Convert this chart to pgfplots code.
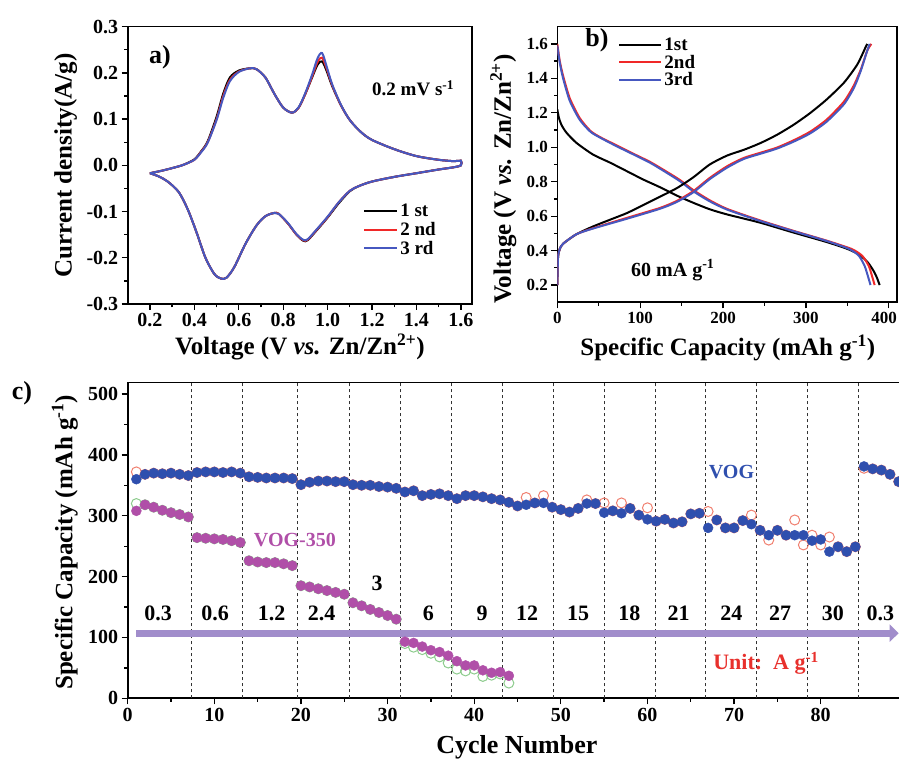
\documentclass[border=0pt]{standalone}
\usepackage{fontspec}
\setmainfont{Liberation Serif}
\usepackage{pgfplots}
\pgfplotsset{compat=1.18}
\usetikzlibrary{arrows.meta}

\definecolor{cvred}{HTML}{F02828}
\definecolor{cvblue}{HTML}{4658C0}
\definecolor{vogblue}{HTML}{2F4FAE}
\definecolor{vogmag}{HTML}{B04FA8}
\definecolor{openred}{HTML}{F08070}
\definecolor{opengreen}{HTML}{8CCB8C}
\definecolor{arrowcol}{HTML}{A18DCB}
\definecolor{unitred}{HTML}{E8302C}

\newcommand\tk{\fontsize{20}{22}\selectfont\bfseries}
\newcommand\tkb{\fontsize{17}{19}\selectfont\bfseries}
\newcommand\lb{\fontsize{25}{28}\selectfont\bfseries}
\newcommand\an{\fontsize{19}{21}\selectfont\bfseries}

\pgfplotsset{
  myaxis/.style={
    scale only axis,
    axis line style={line width=1.6pt},
    tick style={line width=1.3pt, black},
    tick align=outside,
    tick pos=left,
    major tick length=6pt,
    minor tick length=3.5pt,
    tick label style={font=\tk},
    /pgf/number format/assume math mode=true,
    label style={font=\lb},
  }
}

\begin{document}
\begin{tikzpicture}
\useasboundingbox (0,0) rectangle (899pt,760pt);
\clip (0,0) rectangle (899pt,760pt);

% ---------------- panel a ----------------
\begin{axis}[myaxis,
  at={(127.7pt,456pt)}, anchor=south west,
  width=344.3pt, height=277.3pt,
  xmin=0.1, xmax=1.65, ymin=-0.3, ymax=0.3,
  xtick={0.2,0.4,0.6,0.8,1.0,1.2,1.4,1.6},
  ytick={-0.3,-0.2,-0.1,0,0.1,0.2,0.3},
  minor x tick num=1, minor y tick num=1,
  xticklabel style={/pgf/number format/.cd,fixed,fixed zerofill,precision=1},
  yticklabel style={/pgf/number format/.cd,fixed,fixed zerofill,precision=1},
  xlabel={Voltage (V \textit{vs.} Zn/Zn\textsuperscript{2+})},
  ylabel={Current density(A/g)},
  every axis x label/.style={at={(axis description cs:0.5,-0.155)},anchor=center,font=\lb},
  every axis y label/.style={at={(axis description cs:-0.18,0.5)},anchor=center,rotate=90,font=\lb},
  legend style={draw=none, fill=none, at={(axis description cs:0.675,0.375)}, anchor=north west, font=\an, row sep=0pt},
  legend cell align=left,
  legend image code/.code={\draw[#1, line width=2pt] (0pt,0pt) -- (33pt,0pt);},
]
\addplot[black, line width=2pt, smooth] coordinates {
(0.20,-0.017)(0.25,-0.012)(0.30,-0.006)(0.35,0.001)(0.40,0.013)(0.43,0.030)(0.46,0.052)(0.50,0.105)(0.53,0.155)(0.56,0.190)(0.60,0.205)(0.65,0.210)(0.68,0.208)(0.72,0.190)(0.76,0.155)(0.80,0.125)(0.84,0.114)(0.87,0.125)(0.90,0.155)(0.93,0.190)(0.955,0.218)(0.975,0.225)(0.995,0.205)(1.02,0.172)(1.06,0.130)(1.10,0.098)(1.15,0.072)(1.20,0.055)(1.30,0.035)(1.40,0.020)(1.50,0.012)(1.57,0.009)(1.60,0.010)
(1.60,0.000)(1.57,-0.004)(1.50,-0.009)(1.40,-0.017)(1.30,-0.025)(1.20,-0.035)(1.14,-0.045)(1.10,-0.056)(1.05,-0.082)(1.00,-0.113)(0.95,-0.141)(0.91,-0.162)(0.89,-0.163)(0.86,-0.150)(0.82,-0.125)(0.78,-0.105)(0.76,-0.103)(0.72,-0.110)(0.68,-0.130)(0.63,-0.170)(0.58,-0.220)(0.545,-0.243)(0.52,-0.245)(0.49,-0.235)(0.45,-0.200)(0.41,-0.145)(0.37,-0.095)(0.33,-0.058)(0.28,-0.035)(0.24,-0.024)(0.20,-0.017)};
\addlegendentry{1 st}
\addplot[cvred, line width=2pt, smooth] coordinates {
(0.20,-0.017)(0.25,-0.012)(0.30,-0.006)(0.35,0.001)(0.40,0.012)(0.43,0.029)(0.46,0.050)(0.50,0.100)(0.53,0.150)(0.56,0.185)(0.60,0.203)(0.65,0.210)(0.68,0.208)(0.72,0.190)(0.76,0.155)(0.80,0.125)(0.84,0.114)(0.87,0.125)(0.90,0.155)(0.93,0.192)(0.955,0.224)(0.975,0.233)(0.995,0.210)(1.02,0.174)(1.06,0.130)(1.10,0.098)(1.15,0.072)(1.20,0.055)(1.30,0.035)(1.40,0.020)(1.50,0.012)(1.57,0.009)(1.60,0.010)
(1.60,0.000)(1.57,-0.004)(1.50,-0.009)(1.40,-0.017)(1.30,-0.025)(1.20,-0.035)(1.14,-0.045)(1.10,-0.055)(1.05,-0.080)(1.00,-0.112)(0.95,-0.140)(0.91,-0.161)(0.89,-0.162)(0.86,-0.150)(0.82,-0.125)(0.78,-0.105)(0.76,-0.103)(0.72,-0.110)(0.68,-0.130)(0.63,-0.170)(0.58,-0.220)(0.545,-0.243)(0.52,-0.245)(0.49,-0.235)(0.45,-0.200)(0.41,-0.145)(0.37,-0.095)(0.33,-0.058)(0.28,-0.035)(0.24,-0.024)(0.20,-0.017)};
\addlegendentry{2 nd}
\addplot[cvblue, line width=2pt, smooth] coordinates {
(0.20,-0.017)(0.25,-0.012)(0.30,-0.006)(0.35,0.001)(0.40,0.012)(0.43,0.028)(0.46,0.049)(0.50,0.098)(0.53,0.146)(0.56,0.182)(0.60,0.202)(0.65,0.210)(0.68,0.208)(0.72,0.190)(0.76,0.155)(0.80,0.125)(0.84,0.114)(0.87,0.126)(0.90,0.157)(0.93,0.196)(0.955,0.232)(0.975,0.243)(0.995,0.215)(1.02,0.176)(1.06,0.131)(1.10,0.098)(1.15,0.072)(1.20,0.055)(1.30,0.035)(1.40,0.020)(1.50,0.012)(1.57,0.009)(1.60,0.010)
(1.60,0.000)(1.57,-0.004)(1.50,-0.009)(1.40,-0.017)(1.30,-0.025)(1.20,-0.035)(1.14,-0.045)(1.10,-0.055)(1.05,-0.080)(1.00,-0.111)(0.95,-0.139)(0.91,-0.160)(0.89,-0.161)(0.86,-0.149)(0.82,-0.124)(0.78,-0.105)(0.76,-0.103)(0.72,-0.110)(0.68,-0.130)(0.63,-0.170)(0.58,-0.220)(0.545,-0.243)(0.52,-0.245)(0.49,-0.235)(0.45,-0.200)(0.41,-0.145)(0.37,-0.095)(0.33,-0.058)(0.28,-0.035)(0.24,-0.024)(0.20,-0.017)};
\addlegendentry{3 rd}
\node[font=\an, anchor=center] at (axis description cs:0.829,0.779) {0.2 mV s\textsuperscript{-1}};
\node[font=\fontsize{26}{28}\selectfont\bfseries, anchor=center] at (axis description cs:0.094,0.89) {a)};
\end{axis}

% ---------------- panel b ----------------
\begin{axis}[myaxis,
  at={(557.3pt,457.7pt)}, anchor=south west,
  width=339.7pt, height=275.6pt,
  xmin=0, xmax=410, ymin=0.1, ymax=1.7,
  xtick={0,100,200,300,400},
  xticklabels={0,100,200,300,{\hspace*{-9pt}400}},
  ytick={0.2,0.4,0.6,0.8,1.0,1.2,1.4,1.6},
  minor x tick num=1, minor y tick num=1,
  tick label style={font=\tkb},
  yticklabel style={/pgf/number format/.cd,fixed,fixed zerofill,precision=1},
  xlabel={Specific Capacity (mAh g\textsuperscript{-1})},
  ylabel={Voltage (V \textit{vs.} Zn/Zn\textsuperscript{2+})},
  every axis x label/.style={at={(axis description cs:0.502,-0.167)},anchor=center,font=\lb},
  every axis y label/.style={at={(axis description cs:-0.159,0.447)},anchor=center,rotate=90,font=\lb},
  legend style={draw=none, fill=none, at={(axis description cs:0.17,0.975)}, anchor=north west, font=\an, row sep=-1pt},
  legend cell align=left,
  legend image code/.code={\draw[#1, line width=2.2pt] (0pt,0pt) -- (42pt,0pt);},
]
\addplot[black, line width=2pt, smooth, tension=0.4] coordinates {
(0,1.22)(2,1.17)(5,1.13)(11,1.085)(23,1.026)(43,0.958)(64,0.910)(84,0.861)(104,0.812)(124,0.768)(144,0.720)(164,0.678)(184,0.640)(205,0.610)(245,0.562)(285,0.505)(325,0.450)(350,0.410)(365,0.375)(375,0.330)(382,0.280)(386,0.240)(389,0.200)};
\addlegendentry{1st}
\addplot[cvred, line width=2pt, smooth, tension=0.4] coordinates {
(0,1.60)(3,1.50)(7,1.415)(15,1.285)(27,1.17)(40,1.095)(52,1.058)(72,1.010)(92,0.962)(112,0.915)(132,0.858)(148,0.810)(164,0.752)(184,0.692)(205,0.642)(245,0.575)(285,0.515)(325,0.458)(355,0.410)(368,0.370)(376,0.310)(380,0.250)(383,0.200)};
\addlegendentry{2nd}
\addplot[cvblue, line width=2pt, smooth, tension=0.4] coordinates {
(0,1.59)(3,1.49)(7,1.40)(15,1.27)(27,1.16)(40,1.09)(52,1.055)(72,1.005)(92,0.958)(112,0.910)(132,0.852)(148,0.803)(164,0.745)(184,0.686)(205,0.638)(245,0.572)(285,0.513)(325,0.456)(352,0.410)(364,0.370)(371,0.310)(375,0.250)(378,0.200)};
\addlegendentry{3rd}
\addplot[black, line width=2pt, smooth, tension=0.4, forget plot] coordinates {
(0,0.20)(0.5,0.30)(1,0.37)(3,0.41)(7,0.44)(23,0.495)(43,0.540)(64,0.580)(84,0.618)(104,0.665)(124,0.713)(144,0.762)(164,0.825)(184,0.900)(205,0.952)(225,0.985)(245,1.024)(265,1.072)(285,1.130)(305,1.198)(325,1.277)(346,1.375)(362,1.480)(372,1.580)(374,1.600)};
\addplot[cvred, line width=2pt, smooth, tension=0.4, forget plot] coordinates {
(0,0.20)(0.5,0.30)(1,0.37)(3,0.41)(7,0.44)(23,0.495)(43,0.530)(84,0.590)(124,0.648)(144,0.688)(164,0.745)(184,0.822)(205,0.890)(225,0.938)(245,0.968)(265,0.998)(285,1.040)(305,1.090)(325,1.160)(346,1.265)(358,1.360)(367,1.460)(374,1.560)(379,1.600)};
\addplot[cvblue, line width=2pt, smooth, tension=0.4, forget plot] coordinates {
(0,0.20)(0.5,0.30)(1,0.37)(3,0.41)(7,0.44)(23,0.495)(43,0.528)(84,0.585)(124,0.643)(144,0.682)(164,0.738)(184,0.815)(205,0.882)(225,0.932)(245,0.962)(265,0.992)(285,1.032)(305,1.080)(325,1.148)(346,1.250)(358,1.345)(366,1.440)(373,1.545)(377,1.600)};
\node[font=\fontsize{20}{22}\selectfont\bfseries, anchor=center] at (axis description cs:0.34,0.117) {60 mA g\textsuperscript{-1}};
\node[font=\fontsize{26}{28}\selectfont\bfseries, anchor=center] at (axis description cs:0.117,0.95) {b)};
\end{axis}

% ---------------- panel c ----------------
\begin{axis}[myaxis,
  at={(127.7pt,61.7pt)}, anchor=south west,
  width=775.3pt, height=315.6pt,
  xmin=0, xmax=89.5, ymin=0, ymax=518.6,
  xtick={0,10,20,30,40,50,60,70,80},
  ytick={0,100,200,300,400,500},
  minor x tick num=1, minor y tick num=1,
  xlabel={Cycle Number},
  ylabel={Specific Capacity (mAh g\textsuperscript{-1})},
  every axis x label/.style={at={(axis description cs:0.502,-0.155)},anchor=center,font=\fontsize{26}{28}\selectfont\bfseries},
  every axis y label/.style={at={(axis description cs:-0.081,0.494)},anchor=center,rotate=90,font=\lb},
]
\draw[dashed, line width=0.9pt, black!80] (axis cs:7.4,0) -- (axis cs:7.4,518.6);
\draw[dashed, line width=0.9pt, black!80] (axis cs:13.3,0) -- (axis cs:13.3,518.6);
\draw[dashed, line width=0.9pt, black!80] (axis cs:19.6,0) -- (axis cs:19.6,518.6);
\draw[dashed, line width=0.9pt, black!80] (axis cs:25.6,0) -- (axis cs:25.6,518.6);
\draw[dashed, line width=0.9pt, black!80] (axis cs:31.5,0) -- (axis cs:31.5,518.6);
\draw[dashed, line width=0.9pt, black!80] (axis cs:37.4,0) -- (axis cs:37.4,518.6);
\draw[dashed, line width=0.9pt, black!80] (axis cs:43.3,0) -- (axis cs:43.3,518.6);
\draw[dashed, line width=0.9pt, black!80] (axis cs:49.1,0) -- (axis cs:49.1,518.6);
\draw[dashed, line width=0.9pt, black!80] (axis cs:55.0,0) -- (axis cs:55.0,518.6);
\draw[dashed, line width=0.9pt, black!80] (axis cs:60.9,0) -- (axis cs:60.9,518.6);
\draw[dashed, line width=0.9pt, black!80] (axis cs:66.7,0) -- (axis cs:66.7,518.6);
\draw[dashed, line width=0.9pt, black!80] (axis cs:72.6,0) -- (axis cs:72.6,518.6);
\draw[dashed, line width=0.9pt, black!80] (axis cs:78.5,0) -- (axis cs:78.5,518.6);
\draw[dashed, line width=0.9pt, black!80] (axis cs:84.4,0) -- (axis cs:84.4,518.6);
\draw[arrowcol, line width=7pt, -{Triangle[length=9pt 0, width=17pt 0]}] (axis cs:1,107) -- (axis cs:89.0,107);

% open markers (second series) behind
\addplot[only marks, mark=o, mark size=5pt, openred, mark options={line width=1pt}] coordinates {
(1,372)(2,368)(3,370)(4,369)(5,370)(6,368)(7,366)(8,371)(9,372)(10,372)(11,371)(12,372)(13,370)(14,364)(15,363)(16,362)(17,362)(18,362)(19,361)(20,351)(21,355)(22,357)(23,357)(24,356)(25,356)(26,351)(27,350)(28,350)(29,348)(30,347)(31,345)(32,339)(33,341)(34,333)(35,335)(36,336)(37,333)(38,328)(39,333)(40,333)(41,331)(42,328)(43,326)(44,322)(45,316)(46,330)(47,321)(48,333)(49,314)(50,310)(51,306)(52,312)(53,326)(54,320)(55,321)(56,308)(57,321)(58,312)(59,301)(60,313)(61,291)(62,294)(63,288)(64,290)(65,303)(66,304)(67,307)(68,293)(69,280)(70,280)(71,292)(72,301)(73,276)(74,260)(75,276)(76,268)(77,293)(78,252)(79,268)(80,252)(81,265)(82,249)(83,241)(84,249)(85,378)(86,377)(87,375)(88,368)(89,356)};
\addplot[only marks, mark=o, mark size=5pt, opengreen, mark options={line width=1pt}] coordinates {
(1,320)(2,318)(3,314)(4,309)(5,305)(6,302)(7,298)(8,264)(9,263)(10,262)(11,261)(12,259)(13,256)(14,226)(15,224)(16,223)(17,223)(18,221)(19,218)(20,185)(21,183)(22,180)(23,177)(24,174)(25,171)(26,157)(27,152)(28,146)(29,141)(30,136)(31,130)(32,90)(33,84)(34,80)(35,74)(36,68)(37,58)(38,48)(39,45)(40,48)(41,36)(42,38)(43,40)(44,25)};
% filled markers
\addplot[only marks, mark=*, mark size=5pt, vogblue, mark options={fill=vogblue, draw=vogblue}] coordinates {
(1,360)(2,368)(3,370)(4,369)(5,370)(6,368)(7,366)(8,371)(9,372)(10,372)(11,371)(12,372)(13,370)(14,364)(15,363)(16,362)(17,362)(18,362)(19,361)(20,351)(21,355)(22,357)(23,357)(24,356)(25,356)(26,351)(27,350)(28,350)(29,348)(30,347)(31,345)(32,339)(33,341)(34,333)(35,335)(36,336)(37,333)(38,328)(39,333)(40,333)(41,331)(42,328)(43,326)(44,322)(45,316)(46,318)(47,321)(48,321)(49,314)(50,310)(51,306)(52,312)(53,320)(54,320)(55,305)(56,308)(57,304)(58,312)(59,301)(60,294)(61,291)(62,294)(63,288)(64,290)(65,303)(66,304)(67,280)(68,293)(69,280)(70,280)(71,292)(72,286)(73,276)(74,268)(75,276)(76,268)(77,268)(78,268)(79,259)(80,261)(81,241)(82,249)(83,241)(84,249)(85,381)(86,377)(87,375)(88,368)(89,356)};
\addplot[only marks, mark=*, mark size=5pt, vogmag, mark options={fill=vogmag, draw=vogmag}] coordinates {
(1,308)(2,318)(3,314)(4,309)(5,305)(6,302)(7,298)(8,264)(9,263)(10,262)(11,261)(12,259)(13,256)(14,226)(15,224)(16,223)(17,223)(18,221)(19,218)(20,185)(21,183)(22,180)(23,177)(24,174)(25,171)(26,157)(27,152)(28,146)(29,141)(30,136)(31,130)(32,93)(33,91)(34,85)(35,79)(36,76)(37,70)(38,61)(39,54)(40,54)(41,46)(42,42)(43,43)(44,37)};

\node[font=\fontsize{22}{24}\selectfont\bfseries] at (axis cs:3.5,140) {0.3};
\node[font=\fontsize{22}{24}\selectfont\bfseries] at (axis cs:10.1,140) {0.6};
\node[font=\fontsize{22}{24}\selectfont\bfseries] at (axis cs:16.6,140) {1.2};
\node[font=\fontsize{22}{24}\selectfont\bfseries] at (axis cs:22.4,140) {2.4};
\node[font=\fontsize{22}{24}\selectfont\bfseries] at (axis cs:28.8,189) {3};
\node[font=\fontsize{22}{24}\selectfont\bfseries] at (axis cs:34.7,140) {6};
\node[font=\fontsize{22}{24}\selectfont\bfseries] at (axis cs:40.9,140) {9};
\node[font=\fontsize{22}{24}\selectfont\bfseries] at (axis cs:46.1,140) {12};
\node[font=\fontsize{22}{24}\selectfont\bfseries] at (axis cs:52.0,140) {15};
\node[font=\fontsize{22}{24}\selectfont\bfseries] at (axis cs:57.9,140) {18};
\node[font=\fontsize{22}{24}\selectfont\bfseries] at (axis cs:63.6,140) {21};
\node[font=\fontsize{22}{24}\selectfont\bfseries] at (axis cs:69.7,140) {24};
\node[font=\fontsize{22}{24}\selectfont\bfseries] at (axis cs:75.3,140) {27};
\node[font=\fontsize{22}{24}\selectfont\bfseries] at (axis cs:81.4,140) {30};
\node[font=\fontsize{22}{24}\selectfont\bfseries] at (axis cs:86.9,140) {0.3};
\node[font=\fontsize{20}{22}\selectfont\bfseries, text=vogmag] at (axis cs:19.3,260) {VOG-350};
\node[font=\fontsize{20}{22}\selectfont\bfseries, text=vogblue] at (axis cs:69.7,372) {VOG};
\node[font=\fontsize{22}{24}\selectfont\bfseries, text=unitred] at (axis cs:73.7,57.5) {Unit:\ \ A g\textsuperscript{-1}};
\end{axis}

\node[font=\fontsize{26}{28}\selectfont\bfseries] at (22pt,367pt) {c)};
\end{tikzpicture}
\end{document}
